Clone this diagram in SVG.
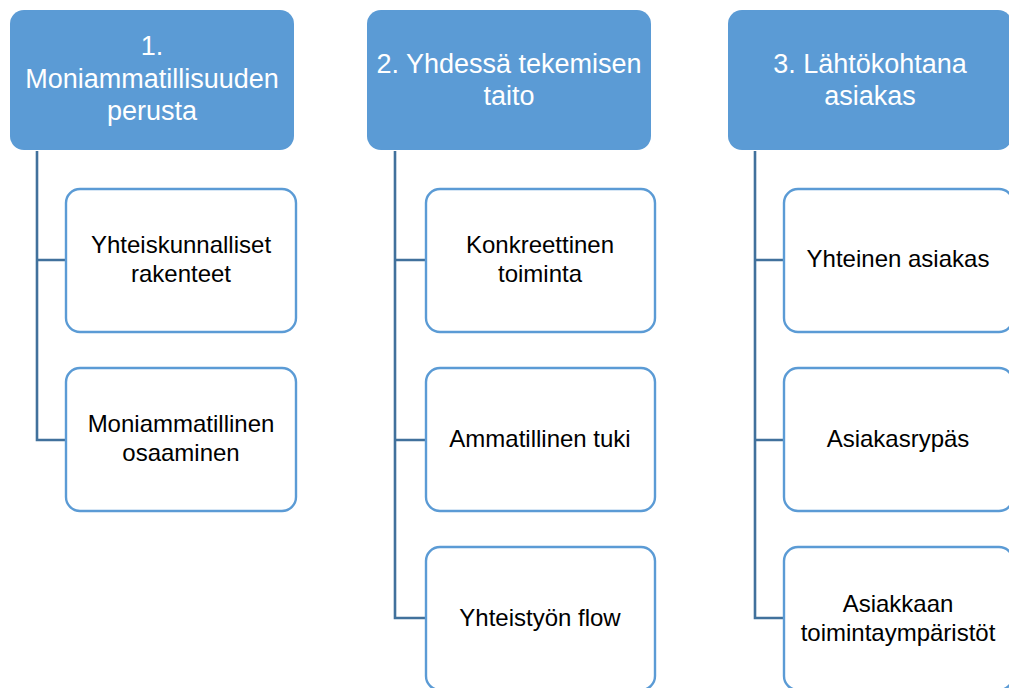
<svg xmlns="http://www.w3.org/2000/svg" width="1009" height="688" viewBox="0 0 1009 688">
<style>
.hdr{fill:#5B9BD5;}
.chd{fill:#FFFFFF;stroke:#5B9BD5;stroke-width:2.4;}
.conn{fill:none;stroke:#41719C;stroke-width:2.6;}
.ht{font-family:"Liberation Sans",Arial,sans-serif;font-size:27px;fill:#FFFFFF;text-anchor:middle;}
.ct{font-family:"Liberation Sans",Arial,sans-serif;font-size:24px;fill:#000000;text-anchor:middle;}
</style>
<rect width="1009" height="688" fill="#FFFFFF"/>
<g id="connectors">
<path class="conn" d="M37,151 V260 H66 M37,260 V440 H66"/>
<path class="conn" d="M395,151 V260 H426 M395,260 V440 H426 M395,440 V618 H426"/>
<path class="conn" d="M755,151 V260 H784 M755,260 V440 H784 M755,440 V618 H784"/>
</g>
<g id="h1"><rect class="hdr" x="10" y="10" width="284" height="140" rx="14"/>
<text class="ht" x="152" y="55">1.</text><text class="ht" x="152" y="88">Moniammatillisuuden</text><text class="ht" x="152" y="120">perusta</text></g>
<g id="h2"><rect class="hdr" x="367" y="10" width="284" height="140" rx="14"/>
<text class="ht" x="509" y="73">2. Yhdessä tekemisen</text><text class="ht" x="509" y="105">taito</text></g>
<g id="h3"><rect class="hdr" x="728" y="10" width="284" height="140" rx="14"/>
<text class="ht" x="870" y="73">3. Lähtökohtana</text><text class="ht" x="870" y="105">asiakas</text></g>
<g id="c1a"><rect class="chd" x="66" y="189" width="230" height="143" rx="14"/>
<text class="ct" x="181" y="253">Yhteiskunnalliset</text><text class="ct" x="181" y="282">rakenteet</text></g>
<g id="c1b"><rect class="chd" x="66" y="368" width="230" height="143" rx="14"/>
<text class="ct" x="181" y="432">Moniammatillinen</text><text class="ct" x="181" y="461">osaaminen</text></g>
<g id="c2a"><rect class="chd" x="426" y="189" width="229" height="143" rx="14"/>
<text class="ct" x="540" y="253">Konkreettinen</text><text class="ct" x="540" y="282">toiminta</text></g>
<g id="c2b"><rect class="chd" x="426" y="368" width="229" height="143" rx="14"/>
<text class="ct" x="540" y="447">Ammatillinen tuki</text></g>
<g id="c2c"><rect class="chd" x="426" y="547" width="229" height="143" rx="14"/>
<text class="ct" x="540" y="626">Yhteistyön flow</text></g>
<g id="c3a"><rect class="chd" x="784" y="189" width="229" height="143" rx="14"/>
<text class="ct" x="898" y="267">Yhteinen asiakas</text></g>
<g id="c3b"><rect class="chd" x="784" y="368" width="229" height="143" rx="14"/>
<text class="ct" x="898" y="447">Asiakasrypäs</text></g>
<g id="c3c"><rect class="chd" x="784" y="547" width="229" height="143" rx="14"/>
<text class="ct" x="898" y="612">Asiakkaan</text><text class="ct" x="898" y="641">toimintaympäristöt</text></g>
</svg>
